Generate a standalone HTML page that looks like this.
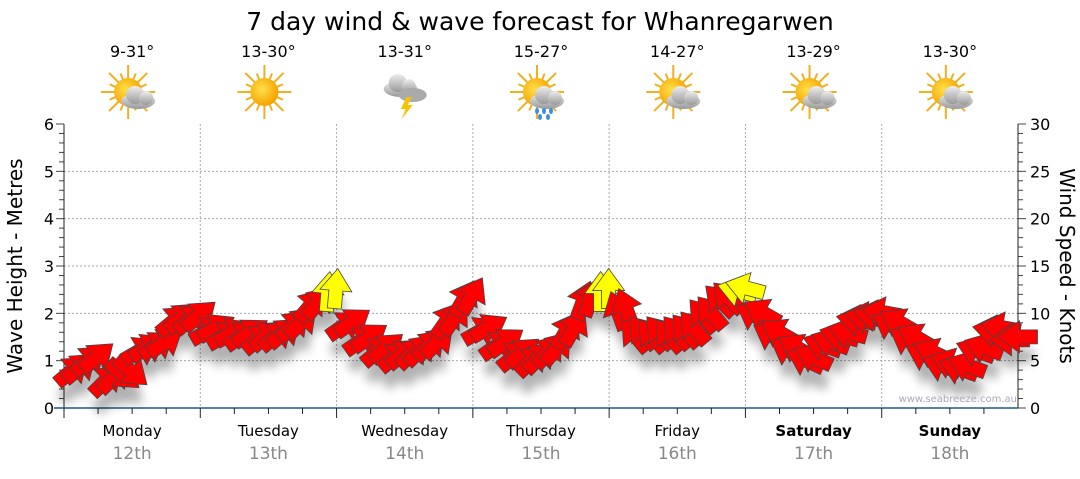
<!DOCTYPE html>
<html><head><meta charset="utf-8"><style>
body{margin:0;background:#fff;width:1080px;height:475px;overflow:hidden;font-family:"DejaVu Sans","Liberation Sans",sans-serif}
</style></head><body>
<svg id="c" width="1080" height="475" xmlns="http://www.w3.org/2000/svg">
<defs>
<filter id="sh" x="-50%" y="-50%" width="200%" height="200%"><feGaussianBlur stdDeviation="5"/></filter>
<radialGradient id="sun" cx="0.4" cy="0.4" r="0.6"><stop offset="0" stop-color="#ffe04a"/><stop offset="1" stop-color="#f5a300"/></radialGradient>
<linearGradient id="cl" x1="0" y1="0" x2="0" y2="1"><stop offset="0" stop-color="#eee"/><stop offset="1" stop-color="#999"/></linearGradient>
</defs>
<text x="540" y="30" font-size="25" text-anchor="middle" fill="#000">7 day wind &amp; wave forecast for Whanregarwen</text>
<g id="grid"></g><g id="axes"></g><g id="icons"></g><g id="shadows" filter="url(#sh)" opacity="0.3"></g><g id="arrows"></g>
<text x="1017" y="402" font-size="10" text-anchor="end" fill="#aab">www.seabreeze.com.au</text>
<text transform="translate(22,266) rotate(-90)" font-size="20" text-anchor="middle">Wave Height - Metres</text>
<text transform="translate(1060,266) rotate(90)" font-size="20" text-anchor="middle">Wind Speed - Knots</text>
</svg>
<script>
const days=["Monday","Tuesday","Wednesday","Thursday","Friday","Saturday","Sunday"];
const dates=["12th","13th","14th","15th","16th","17th","18th"];
const temps=["9-31°","13-30°","13-31°","15-27°","14-27°","13-29°","13-30°"];
const icons=["pc","sun","storm","rain","pc","pc","pc"];
const waveTicks=[0,1,2,3,4,5,6];
const windTicks=[0,5,10,15,20,25,30];
const windSpeed=[4.0,5.1,3.0,3.5,6.1,6.7,9.3,9.5, 8.2,7.7,7.7,7.4,7.7,8.8,10.9,12.3, 8.8,7.2,6.1,5.5,5.9,6.7,9.3,11.6, 8.2,6.7,5.6,5.1,6.1,8.2,11.4,12.3, 10.3,7.7,7.7,7.7,8.2,9.8,11.4,12.4, 9.8,7.7,6.1,5.1,6.7,7.7,9.3,9.8, 8.8,7.2,5.6,4.5,4.2,6.1,8.2,7.2];
const windDir=[50,50,45,130,60,55,50,50, 60,60,55,50,50,45,40,5, 55,55,50,50,45,45,35,30, 60,55,50,45,40,30,20,0, -20,-40,-40,-40,-40,-40,-45,-75, -60,-60,-60,-65,-70,-75,-80,-80, -60,-60,-65,-70,-70,-70,-80,-90];
const NS="http://www.w3.org/2000/svg";
const X0=64,X1=1018,Y0=408,Y1=124;
const dayW=(X1-X0)/7;
const xT=h=>X0+h/168*(X1-X0);
const yW=m=>Y0-m/6*(Y0-Y1);
const yK=k=>Y0-k/30*(Y0-Y1);
function mk(tag,at,par){const e=document.createElementNS(NS,tag);for(const k in at)e.setAttribute(k,at[k]);par.appendChild(e);return e;}
const grid=document.getElementById('grid'),axes=document.getElementById('axes'),ic=document.getElementById('icons');
waveTicks.forEach(t=>{
 if(t>0&&t<6){const l=mk('line',{x1:X0,x2:X1,y1:yW(t),y2:yW(t),stroke:'#aaa','stroke-dasharray':'2,2'},grid);
 
 }
 const tx=mk('text',{x:X0-10,y:yW(t)+6,'font-size':16,'text-anchor':'end'},axes);tx.textContent=t;
 
 
});
for(let i=0;i<=30;i++){const y=yW(i*0.2);mk('line',{x1:X0-(i%5==0?8:5),x2:X0,y1:y,y2:y,stroke:'#444'},axes);
 const yr=yK(i);mk('line',{x1:X1,x2:X1+(i%5==0?8:5),y1:yr,y2:yr,stroke:'#444'},axes);}
windTicks.forEach(t=>{const tx=mk('text',{x:X1+12,y:yK(t)+6,'font-size':16},axes);tx.textContent=t;
 
 });
mk('line',{x1:X0,x2:X0,y1:Y1,y2:Y0,stroke:'#222'},axes);
mk('line',{x1:X1,x2:X1,y1:Y1,y2:Y0,stroke:'#222'},axes);
mk('line',{x1:X0-10,x2:X1,y1:Y0,y2:Y0,stroke:'#1d5a86','stroke-width':1.5},axes);
for(let d=0;d<7;d++){
 const xs=X0+d*dayW,cx=xs+dayW/2;
 if(d>0){const g=mk('line',{x1:xs,x2:xs,y1:Y1,y2:Y0,stroke:'#aaa','stroke-dasharray':'2,2'},grid);
 
 }
 for(let q=0;q<4;q++){mk('line',{x1:xs+q*dayW/4,x2:xs+q*dayW/4,y1:Y0,y2:Y0+(q==0?10:6),stroke:'#222'},axes);}
 const dl=mk('text',{x:cx,y:436,'font-size':15,'text-anchor':'middle','font-weight':d>=5?'bold':'normal'},axes);dl.textContent=days[d];
 
 
 const dt=mk('text',{x:cx,y:459,'font-size':17,'text-anchor':'middle',fill:'#888'},axes);dt.textContent=dates[d];
 
 
 const tp=mk('text',{x:cx,y:57,'font-size':16,'text-anchor':'middle'},ic);tp.textContent=temps[d];
 
 
 const g=mk('g',{transform:`translate(${cx},95)`},ic);
 
 
 const t=icons[d];
 if(t!='storm'){
  for(let r=0;r<16;r++){const a=r*Math.PI/8,L=r%2?20:27;mk('line',{x1:-4+Math.cos(a)*12,y1:-3+Math.sin(a)*12,x2:-4+Math.cos(a)*L,y2:-3+Math.sin(a)*L,stroke:'#f0b020','stroke-width':2},g);}
  mk('circle',{cx:-4,cy:-3,r:14,fill:'url(#sun)'},g);
 }
 if(t!='sun'){
  const ox=t=='storm'?-4:6,oy=t=='storm'?-8:4;
  mk('ellipse',{cx:ox,cy:oy+2,rx:17,ry:8,fill:'url(#cl)'},g);
  mk('circle',{cx:ox-3,cy:oy-4,r:9,fill:'url(#cl)'},g);
  mk('circle',{cx:ox+8,cy:oy-1,r:7,fill:'url(#cl)'},g);
  if(t=='storm'){mk('ellipse',{cx:8,cy:0,rx:14,ry:7,fill:'#aaa'},g);mk('polygon',{points:'2,2 -4,14 1,14 -3,24 8,10 3,10 7,2',fill:'#f5c400'},g);}
  if(t=='rain'){[-4,3,10].forEach(x=>mk('ellipse',{cx:x,cy:16,rx:2,ry:3,fill:'#3a8ee0'},g));[-1,7].forEach(x=>mk('ellipse',{cx:x,cy:22,rx:2,ry:3,fill:'#3a8ee0'},g));}
 }
}
const arr=document.getElementById('arrows'),sh=document.getElementById('shadows');
const pts="-7,20 -7,2 -16,2 0,-20 16,2 7,2 7,20";
windSpeed.forEach((s,i)=>{
 const x=xT(i*3+1.5),y=yK(s),col=s>=12?'#ffff00':'#ff0000';
 mk('polygon',{points:pts,transform:`translate(${x+4},${y+16}) rotate(${windDir[i]})`,fill:'#000'},sh);
 const p=mk('polygon',{points:pts,transform:`translate(${x},${y}) rotate(${windDir[i]})`,fill:col,stroke:'#444','stroke-width':0.8},arr);
 
 
 const p2=mk('polygon',{points:pts,transform:`translate(${x+8},${y-3}) rotate(${windDir[i]})`,fill:col,stroke:'#444','stroke-width':0.8},arr);
 
 
});
</script>
</body></html>
